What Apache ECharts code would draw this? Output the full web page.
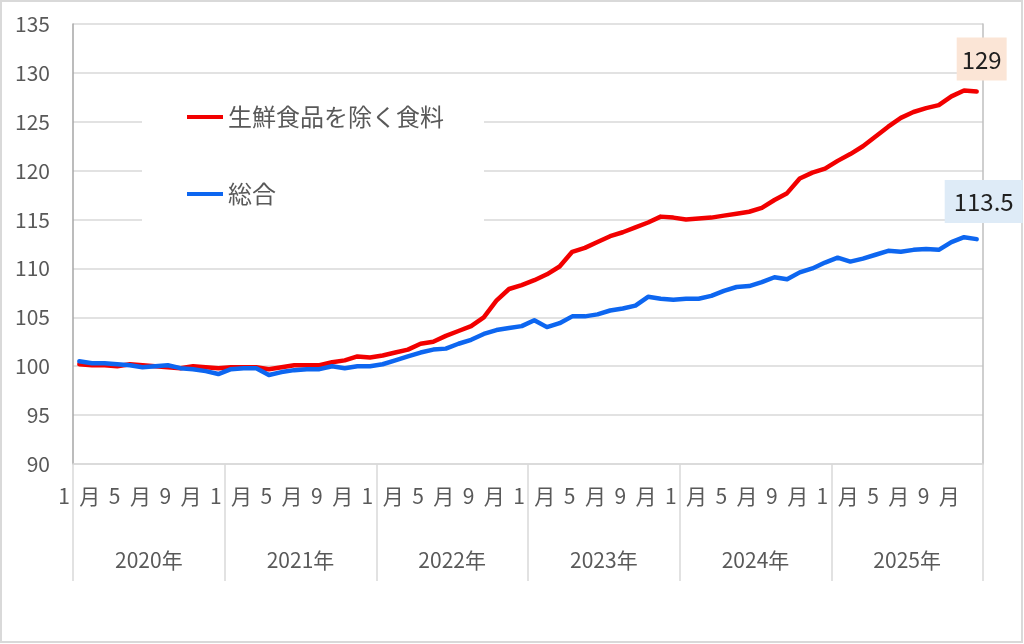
<!DOCTYPE html>
<html>
<head>
<meta charset="utf-8">
<script src="https://cdn.jsdelivr.net/npm/echarts@6/dist/echarts.min.js"></script>
<style>
  html, body { margin: 0; padding: 0; background: #fff; }
  #main { width: 1024px; height: 644px; }
</style>
</head>
<body>
<div id="main"></div>
<script>
// categories: one per month, Jan 2020 - Dec 2025
var years = ['2020', '2021', '2022', '2023', '2024', '2025'];
var monthNames = ['1', '2', '3', '4', '5', '6', '7', '8', '9', '10', '11', '12'];
var months = [];
years.forEach(function (y) {
  monthNames.forEach(function (m) { months.push(y + '-' + m); });
});
var yearLabels = years.map(function (y) { return y + '年'; });

var seriesNames = ['生鮮食品を除く食料', '総合'];

// 生鮮食品を除く食料
var foodExFresh = [
  100.2, 100.1, 100.1, 100.0, 100.2, 100.1, 100.0, 99.9, 99.8, 100.0, 99.9, 99.8,
  99.9, 99.9, 99.9, 99.7, 99.9, 100.1, 100.1, 100.1, 100.4, 100.6, 101.0, 100.9,
  101.1, 101.4, 101.7, 102.3, 102.5, 103.1, 103.6, 104.1, 105.0, 106.7, 107.9, 108.3,
  108.8, 109.4, 110.2, 111.7, 112.1, 112.7, 113.3, 113.7, 114.2, 114.7, 115.3, 115.2,
  115.0, 115.1, 115.2, 115.4, 115.6, 115.8, 116.2, 117.0, 117.7, 119.2, 119.8, 120.2,
  121.0, 121.7, 122.5, 123.5, 124.5, 125.4, 126.0, 126.4, 126.7, 127.6, 128.2, 128.1
];

// 総合
var overall = [
  100.5, 100.3, 100.3, 100.2, 100.1, 99.9, 100.0, 100.1, 99.8, 99.7, 99.5, 99.2,
  99.7, 99.8, 99.8, 99.1, 99.4, 99.6, 99.7, 99.7, 100.0, 99.8, 100.0, 100.0,
  100.2, 100.6, 101.0, 101.4, 101.7, 101.8, 102.3, 102.7, 103.3, 103.7, 103.9, 104.1,
  104.7, 104.0, 104.4, 105.1, 105.1, 105.3, 105.7, 105.9, 106.2, 107.1, 106.9, 106.8,
  106.9, 106.9, 107.2, 107.7, 108.1, 108.2, 108.6, 109.1, 108.9, 109.6, 110.0, 110.6,
  111.1, 110.7, 111.0, 111.4, 111.8, 111.7, 111.9, 112.0, 111.9, 112.7, 113.2, 113.0
];

// call-out texts at the last point
var endLabels = ['129', '113.5'];

var yMin = 90, yMax = 135, yStep = 5;

var font = 'Noto Sans CJK JP';
var grey = '#595959';

// put a label box on the last point only
function withEndLabel(values, text, bg, dist, dx, padX) {
  return values.map(function (v, i) {
    if (i !== values.length - 1) return v;
    return {
      value: v,
      label: {
        show: true,
        position: 'top',
        distance: dist,
        offset: [dx, 0],
        formatter: text,
        fontFamily: font,
        fontSize: 24,
        color: '#1f1f1f',
        backgroundColor: bg,
        padding: [10, padX, 9, padX]
      }
    };
  });
}

var chartDom = document.getElementById('main');
var myChart = echarts.init(chartDom);
var option;

option = {
  animation: false,
  textStyle: { fontFamily: font },
  graphic: [
    {
      type: 'rect',
      shape: { x: 1, y: 1, width: 1021, height: 641 },
      style: { fill: 'none', stroke: '#d9d9d9', lineWidth: 2 },
      silent: true
    }
  ],
  grid: { left: 73, right: 41, top: 24, bottom: 180, outerBoundsMode: 'none' },
  legend: {
    data: seriesNames,
    orient: 'vertical',
    left: 142,
    top: 83,
    padding: [22, 40, 36, 45],
    backgroundColor: '#fff',
    itemGap: 53,
    icon: 'rect',
    itemWidth: 36,
    itemHeight: 4,
    textStyle: { fontSize: 24, color: grey, fontFamily: font }
  },
  xAxis: [
    {
      type: 'category',
      data: months,
      boundaryGap: true,
      axisLine: { lineStyle: { color: '#d9d9d9', width: 1.5 } },
      axisTick: { show: false },
      axisLabel: {
        interval: 3,
        margin: 22,
        fontSize: 21,
        color: grey,
        formatter: function (v) { return v.split('-')[1] + '  月'; }
      }
    },
    {
      type: 'category',
      data: yearLabels,
      position: 'bottom',
      boundaryGap: true,
      axisLine: { show: false },
      axisTick: {
        show: true,
        interval: 0,
        length: 117,
        lineStyle: { color: '#d9d9d9', width: 1.5 }
      },
      axisLabel: { margin: 86, fontSize: 21, color: grey }
    }
  ],
  yAxis: [
    {
      type: 'value',
      min: yMin,
      max: yMax,
      interval: yStep,
      axisLine: { show: true, lineStyle: { color: '#a6a6a6', width: 1.5 } },
      axisTick: { show: false },
      axisLabel: { margin: 23, fontSize: 21, color: grey },
      splitLine: { lineStyle: { color: '#d9d9d9', width: 1.5 } }
    },
    {
      type: 'value',
      position: 'right',
      min: yMin,
      max: yMax,
      interval: yStep,
      axisLine: { show: true, lineStyle: { color: '#bfbfbf', width: 1.5 } },
      axisTick: { show: false },
      axisLabel: { show: false },
      splitLine: { show: false }
    }
  ],
  series: [
    {
      name: seriesNames[0],
      type: 'line',
      showSymbol: true,
      symbol: 'circle',
      symbolSize: 0,
      color: '#f20000',
      lineStyle: { width: 4.5, cap: 'round', join: 'round' },
      data: withEndLabel(foodExFresh, endLabels[0], '#fbe5d6', 11, 5, 5)
    },
    {
      name: seriesNames[1],
      type: 'line',
      showSymbol: true,
      symbol: 'circle',
      symbolSize: 0,
      color: '#0d66f0',
      lineStyle: { width: 4.5, cap: 'round', join: 'round' },
      data: withEndLabel(overall, endLabels[1], '#deebf7', 16, 7, 9)
    }
  ]
};

option && myChart.setOption(option);
</script>
</body>
</html>
